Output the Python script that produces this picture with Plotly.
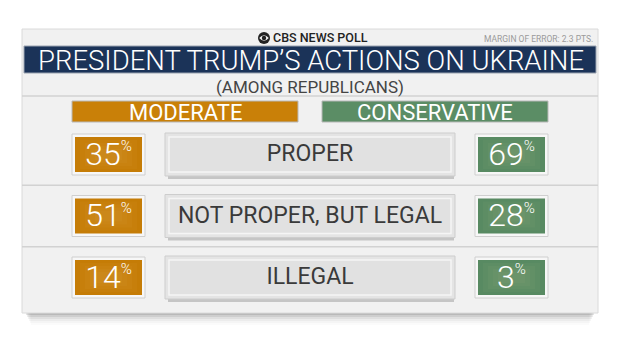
import plotly.graph_objects as go

# ---------------- data ----------------
categories = ["PROPER", "NOT PROPER, BUT LEGAL", "ILLEGAL"]
moderate = [35, 51, 14]
conservative = [69, 28, 3]
groups = ["MODERATE", "CONSERVATIVE"]
title = "PRESIDENT TRUMP’S ACTIONS ON UKRAINE"
subtitle = "(AMONG REPUBLICANS)"
source = "CBS NEWS POLL"
moe = "MARGIN OF ERROR: 2.3 PTS."

# ---------------- layout constants ----------------
W, H = 620, 349
ORANGE = "#C57C06"
GREEN = "#588A62"
NAVY = "#1B3358"
PANEL = "#F1F1F1"
FONT = "Roboto"

row0, row_step = 154.5, 61.5
row_y = [row0 + i * row_step for i in range(len(categories))]
xm, xc, xl = 108.5, 511.5, 310  # column centers
box_hw, box_hh = 36.5, 20.5
lab_hw, lab_hh = 145, 21.5

shapes = []


def rect(x0, y0, x1, y1, fill, line=None, lw=1, layer="below"):
    shapes.append(dict(type="rect", xref="x", yref="y", x0=x0, y0=y0, x1=x1, y1=y1,
                       fillcolor=fill, line=dict(color=line or fill, width=lw if line else 0),
                       layer=layer))


# panel shadow
for k, a in enumerate([0.10, 0.07, 0.05, 0.035, 0.025, 0.015]):
    rect(26 + k, 313, 594 - k, 315 + 2 * k, f"rgba(0,0,0,{a})")
# panel
rect(22, 29, 598, 313, PANEL, "#DADADA")
# title bar
rect(24, 46, 596, 73, NAVY, "#9AA3B0")
# separators
shapes.append(dict(type="line", xref="x", yref="y", x0=22, x1=598, y0=96, y1=96,
                   line=dict(color="#D2D2D2", width=1.5), layer="below"))
for i in range(len(categories) - 1):
    yy = (row_y[i] + row_y[i + 1]) / 2
    shapes.append(dict(type="line", xref="x", yref="y", x0=22, x1=598, y0=yy, y1=yy,
                       line=dict(color="#D2D2D2", width=1.5), layer="below"))
# group headers
rect(72, 101, 298, 122, "#C98008", "#B8B8B8")
rect(322, 101, 548, 122, "#5B8D65", "#B8B8B8")

# CBS eye logo
shapes.append(dict(type="circle", xref="x", yref="y", x0=258, x1=270, y0=32, y1=44,
                   fillcolor="#222", line=dict(width=0)))
shapes.append(dict(type="path", xref="x", yref="y",
                   path="M 259.2 38 Q 264 32.6 268.8 38 Q 264 43.4 259.2 38 Z",
                   fillcolor=PANEL, line=dict(width=0)))
shapes.append(dict(type="circle", xref="x", yref="y", x0=261.8, x1=266.2, y0=35.8, y1=40.2,
                   fillcolor="#222", line=dict(width=0)))

for i, y in enumerate(row_y):
    # label box with shadow
    rect(xl - lab_hw + 3, y + lab_hh - 1, xl + lab_hw - 1, y + lab_hh + 3, "rgba(0,0,0,0.18)")
    rect(xl - lab_hw, y - lab_hh, xl + lab_hw, y + lab_hh, "#E4E4E4", "#CDCDCD")
    rect(xl - lab_hw + 4, y - lab_hh + 4, xl + lab_hw - 4, y + lab_hh - 4, "#E1E1E1", "#F5F5F5", 1.5)
    # value boxes (with a soft lighter centre)
    for xc_, col in ((xm, ORANGE), (xc, GREEN)):
        rect(xc_ - box_hw, y - box_hh, xc_ + box_hw, y + box_hh, "#F7F7F7", "#CFCFCF")
        rect(xc_ - box_hw + 3, y - box_hh + 3, xc_ + box_hw - 3, y + box_hh - 3, col)
        for k in range(1, 5):
            rect(xc_ - box_hw + 3 + 5 * k, y - box_hh + 3 + 3 * k,
                 xc_ + box_hw - 3 - 5 * k, y + box_hh - 3 - 3 * k,
                 "rgba(255,230,170,0.035)")

PCT = "<sup><span style='font-size:15px'>%</span></sup>"

fig = go.Figure()

fig.add_trace(go.Scatter(
    x=[xm] * len(moderate), y=[y + 2 for y in row_y], mode="text",
    text=[f"{v}{PCT}" for v in moderate],
    textfont=dict(family=FONT, size=32, color="white", weight=300),
    hoverinfo="skip", showlegend=False))
fig.add_trace(go.Scatter(
    x=[xc] * len(conservative), y=[y + 2 for y in row_y], mode="text",
    text=[f"{v}{PCT}" for v in conservative],
    textfont=dict(family=FONT, size=32, color="white", weight=300),
    hoverinfo="skip", showlegend=False))
fig.add_trace(go.Scatter(
    x=[xl] * len(categories), y=[y + 1 for y in row_y], mode="text",
    text=categories,
    textfont=dict(family=FONT, size=23, color="#3A3A3A"),
    hoverinfo="skip", showlegend=False))

ann = [
    dict(x=271, y=37, text=source, xanchor="left", yanchor="middle",
         font=dict(family=FONT, size=12.5, color="#222", weight=500)),
    dict(x=595, y=38.5, text=moe, xanchor="right", yanchor="middle",
         font=dict(family=FONT, size=8.5, color="#9A9A9A")),
    dict(x=311, y=60.5, text=title, xanchor="center", yanchor="middle",
         font=dict(family=FONT, size=27.5, color="white", weight=300)),
    dict(x=310, y=87, text=subtitle, xanchor="center", yanchor="middle",
         font=dict(family=FONT, size=17, color="#444")),
    dict(x=185, y=112.5, text=groups[0], xanchor="center", yanchor="middle",
         font=dict(family=FONT, size=22, color="white")),
    dict(x=435, y=112.5, text=groups[1], xanchor="center", yanchor="middle",
         font=dict(family=FONT, size=22, color="white")),
]
for a in ann:
    a.update(xref="x", yref="y", showarrow=False)

fig.update_layout(
    width=W, height=H, margin=dict(l=0, r=0, t=0, b=0),
    paper_bgcolor="white", plot_bgcolor="white",
    xaxis=dict(range=[0, W], visible=False, fixedrange=True),
    yaxis=dict(range=[H, 0], visible=False, fixedrange=True),
    shapes=shapes, annotations=ann, showlegend=False,
)
fig.write_html("out.html")
